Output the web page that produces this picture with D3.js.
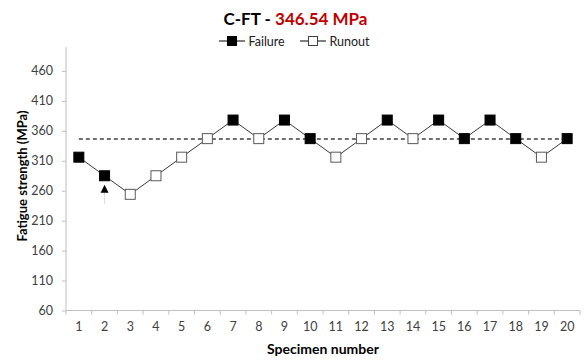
<!DOCTYPE html>
<html>
<head>
<meta charset="utf-8">
<script src="https://cdn.jsdelivr.net/npm/d3@7"></script>
<style>
  html, body { margin: 0; padding: 0; background: #fff; }
  svg { display: block; font-family: Lato, "Open Sans", sans-serif; }
</style>
</head>
<body>
<svg id="chart" width="586" height="361"></svg>
<script>
// Staircase fatigue test results
const specimens = d3.range(1, 21).map(String);
const stress = [316, 285, 254, 285, 316, 347, 378, 347, 378, 347, 316, 347, 378, 347, 378, 347, 378, 347, 316, 347];
const outcome = ["F", "F", "R", "R", "R", "R", "F", "R", "F", "F", "R", "R", "F", "R", "F", "F", "F", "F", "R", "F"];
const meanStrength = 346.54;
const yTicks = [60, 110, 160, 210, 260, 310, 360, 410, 460];
const yDomain = [60, 500];
const arrowSpecimen = "2";

const svg = d3.select("#chart");
const plotLeft = 66, plotRight = 580, plotTop = 47, plotBottom = 310.5;

const x = d3.scaleBand().domain(specimens).range([plotLeft, plotRight]);
const y = d3.scaleLinear().domain(yDomain).range([plotBottom, plotTop]);
const cx = s => x(s) + x.bandwidth() / 2;

const axisColor = "#bfbfbf";
const textColor = "#404040";

// Y axis
const yAxis = svg.append("g")
  .attr("transform", `translate(${plotLeft},0)`)
  .call(d3.axisLeft(y).tickValues(yTicks).tickSize(4).tickPadding(9).tickSizeOuter(0));
yAxis.select(".domain").attr("stroke", axisColor).attr("d", `M0,${plotBottom}V${plotTop}`);
yAxis.selectAll(".tick line").attr("stroke", axisColor);
yAxis.selectAll(".tick text").attr("fill", textColor).attr("font-size", 12.5)
  .attr("font-family", "Lato, 'Open Sans', sans-serif");

// X axis: ticks sit between categories
const xAxis = svg.append("g")
  .attr("transform", `translate(0,${plotBottom})`)
  .call(d3.axisBottom(x).tickSize(0).tickPadding(12));
xAxis.select(".domain").attr("stroke", axisColor).attr("d", `M${plotLeft},0H${plotRight}`);
xAxis.selectAll(".tick text").attr("fill", textColor).attr("font-size", 12.5)
  .attr("font-family", "Lato, 'Open Sans', sans-serif");
xAxis.selectAll(".sep")
  .data(specimens.concat(["end"]))
  .join("line")
  .attr("class", "sep")
  .attr("x1", (d, i) => plotLeft + i * x.bandwidth())
  .attr("x2", (d, i) => plotLeft + i * x.bandwidth())
  .attr("y1", 0).attr("y2", 4)
  .attr("stroke", axisColor);

// Mean strength reference line
svg.append("line")
  .attr("x1", cx(specimens[0])).attr("x2", cx(specimens[specimens.length - 1]))
  .attr("y1", y(meanStrength)).attr("y2", y(meanStrength))
  .attr("stroke", "#404040").attr("stroke-width", 1.5).attr("stroke-dasharray", "4,3");

// Connecting line
const pts = specimens.map((s, i) => ({ s, v: stress[i], o: outcome[i] }));
svg.append("path")
  .datum(pts)
  .attr("fill", "none").attr("stroke", "#3a3a3a").attr("stroke-width", 1)
  .attr("d", d3.line().x(d => cx(d.s)).y(d => y(d.v)));

// Markers
const m = 10;
svg.selectAll(".mk")
  .data(pts)
  .join("rect")
  .attr("class", "mk")
  .attr("x", d => cx(d.s) - m / 2).attr("y", d => y(d.v) - m / 2)
  .attr("width", m).attr("height", m)
  .attr("fill", d => d.o === "F" ? "#000" : "#fff")
  .attr("stroke", d => d.o === "F" ? "#000" : "#595959")
  .attr("stroke-width", 1);

// Arrow under specimen 2
const ax = cx(arrowSpecimen);
const ay = y(stress[specimens.indexOf(arrowSpecimen)]) + 10;
svg.append("line").attr("x1", ax).attr("x2", ax).attr("y1", ay + 7).attr("y2", ay + 18)
  .attr("stroke", "#dcdcdc").attr("stroke-width", 1);
svg.append("path")
  .attr("d", `M${ax},${ay - 1}L${ax - 4},${ay + 7}L${ax + 4},${ay + 7}Z`)
  .attr("fill", "#000");

// Title
const title = svg.append("text")
  .attr("x", 295.5).attr("y", 25).attr("text-anchor", "middle")
  .attr("font-size", 17).attr("font-weight", "bold");
title.append("tspan").attr("fill", "#000").text("C-FT - ");
title.append("tspan").attr("fill", "#c00000").text(`${meanStrength} MPa`);

// Legend
const legend = [
  { label: "Failure", fill: "#000", stroke: "#000", x0: 219 },
  { label: "Runout", fill: "#fff", stroke: "#404040", x0: 300 }
];
const lg = svg.selectAll(".lg").data(legend).join("g").attr("class", "lg")
  .attr("transform", d => `translate(${d.x0},41)`);
lg.append("line").attr("x1", 0).attr("x2", 26).attr("y1", 0).attr("y2", 0)
  .attr("stroke", "#000").attr("stroke-width", 1);
lg.append("rect").attr("x", 8.5).attr("y", -4.5).attr("width", 9).attr("height", 9)
  .attr("fill", d => d.fill).attr("stroke", d => d.stroke);
lg.append("text").attr("x", 29.5).attr("y", 4.5).attr("font-size", 12.5).attr("fill", "#202020")
  .text(d => d.label);

// Axis titles
svg.append("text")
  .attr("transform", "translate(27,176) rotate(-90)")
  .attr("text-anchor", "middle").attr("font-size", 13).attr("font-weight", "bold").attr("fill", "#000")
  .text("Fatigue strength (MPa)");
svg.append("text")
  .attr("x", 323).attr("y", 354).attr("text-anchor", "middle")
  .attr("font-size", 14).attr("font-weight", "bold").attr("fill", "#000")
  .text("Specimen number");
</script>
</body>
</html>
